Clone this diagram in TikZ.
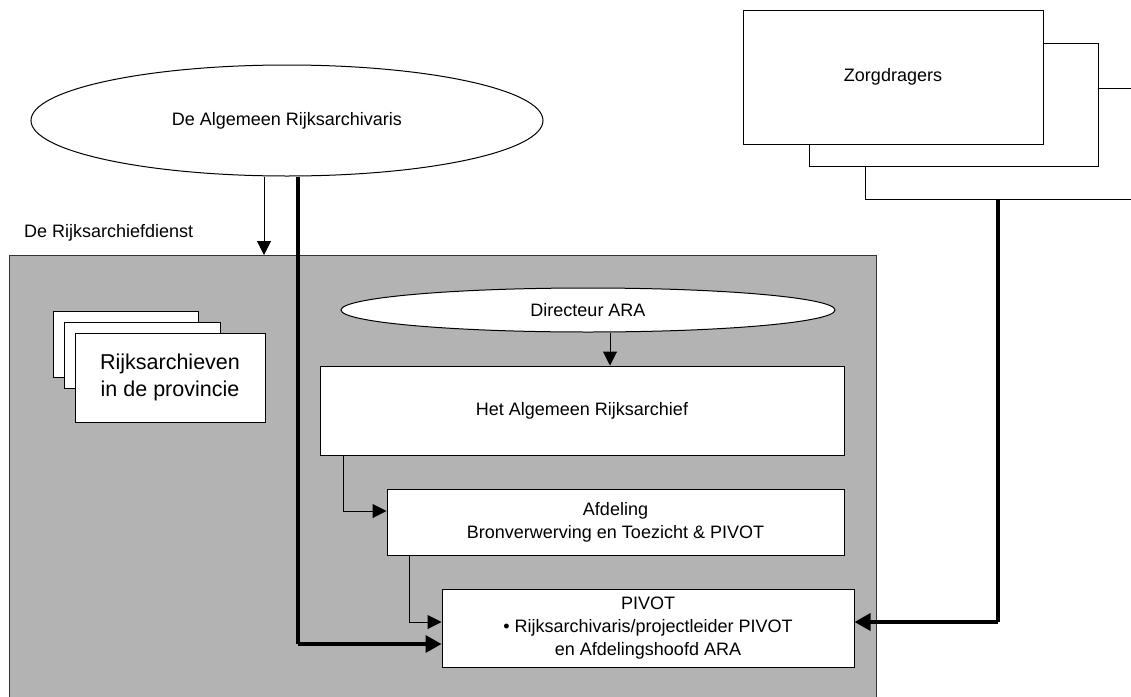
\documentclass[tikz,border=0pt]{standalone}
\usepackage{fontspec}
\setmainfont{Liberation Sans}
\usetikzlibrary{shapes.geometric,arrows.meta}
\definecolor{panelgray}{RGB}{179,179,179}
\tikzset{
  box/.style={draw=black, line width=1pt, fill=white, inner sep=0pt, align=center, font=\fontsize{18}{23}\selectfont},
  oval/.style={ellipse, draw=black, line width=1pt, fill=white, inner sep=0pt, align=center, font=\fontsize{18}{23}\selectfont},
  thinarrow/.style={line width=1pt, -{Triangle[length=14pt,width=14pt]}},
  thickarrow/.style={line width=3.5pt, -{Triangle[length=16pt,width=17pt]}},
  plainlbl/.style={inner sep=0pt, font=\fontsize{18}{23}\selectfont}
}
\begin{document}
\begin{tikzpicture}[x=1pt,y=-1pt]
\useasboundingbox (0,0) rectangle (1131,696);
% top ellipse
\node[oval, minimum width=512pt, minimum height=111pt] (ara) at (287,120.5) {De Algemeen Rijksarchivaris};
\node[plainlbl, anchor=west] (rdlbl) at (24,233) {De Rijksarchiefdienst};
% gray panel
\node[draw=black!80, line width=1pt, fill=panelgray, minimum width=867pt, minimum height=460pt, anchor=north west, inner sep=0pt] (rad) at (9,255) {};
% Zorgdragers stack
\node[box, minimum width=295pt, minimum height=111pt] (z3) at (1012.5,143.5) {};
\node[box, minimum width=289pt, minimum height=123pt] (z2) at (953.5,104.5) {};
\node[box, minimum width=300pt, minimum height=134pt] (z1) at (893,77) {Zorgdragers};
% Rijksarchieven stack
\node[box, minimum width=145pt, minimum height=66pt] (r3) at (125.5,344) {};
\node[box, minimum width=156pt, minimum height=66pt] (r2) at (142,355) {};
\node[box, minimum width=190pt, minimum height=89pt, font=\fontsize{21.5}{27}\selectfont] (r1) at (170,377.5) {Rijksarchieven\\in de provincie};
% inner chain
\node[oval, minimum width=494pt, minimum height=44pt] (dir) at (588,310) {Directeur ARA};
\node[box, minimum width=524pt, minimum height=89pt] (alg) at (582,410.5) {Het Algemeen Rijksarchief};
\node[box, minimum width=457pt, minimum height=66pt] (afd) at (615.5,522) {Afdeling\\Bronverwerving en Toezicht \& PIVOT};
\node[box, minimum width=412pt, minimum height=78pt] (piv) at (648,628) {PIVOT\\\textbullet\ Rijksarchivaris/projectleider PIVOT\\en Afdelingshoofd ARA};
% helper coordinates
\coordinate (ax) at (264,0);
\coordinate (tk) at (298,644);
\coordinate (dx) at (610,0);
\coordinate (c1) at (343,511);
\coordinate (c2) at (409,622);
\coordinate (zr) at (998,622);
% connectors
\draw[thinarrow] (ara.south -| ax) -- (rad.north -| ax);
\draw[line width=3.5pt] (ara.south -| tk) -- (tk);
\draw[thickarrow] (tk) -- (piv.west |- tk);
\draw[thinarrow] (dir.south -| dx) -- (alg.north -| dx);
\draw[line width=1pt] (alg.south -| c1) -- (c1);
\draw[thinarrow] (c1) -- (afd.west |- c1);
\draw[line width=1pt] (afd.south -| c2) -- (c2);
\draw[thinarrow] (c2) -- (piv.west |- c2);
\draw[line width=3.5pt] (z3.south -| zr) -- (zr);
\draw[thickarrow] (zr) -- (piv.east |- zr);
\end{tikzpicture}
\end{document}
